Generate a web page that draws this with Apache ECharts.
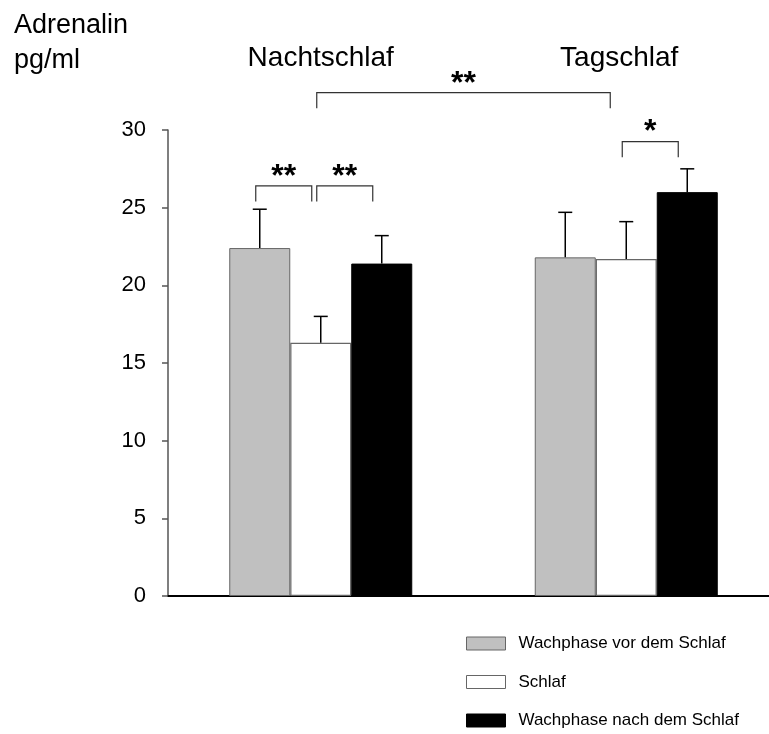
<!DOCTYPE html>
<html>
<head>
<meta charset="utf-8">
<script src="https://cdn.jsdelivr.net/npm/echarts@6/dist/echarts.min.js"></script>
<style>
  html, body { margin: 0; padding: 0; background: #fff; }
  #chart { width: 769px; height: 734px; }
</style>
</head>
<body>
<div id="chart"></div>
<script>
// Adrenalin (pg/ml) per sleep condition and phase: means and upper SEM
const conditions = ['Nachtschlaf', 'Tagschlaf'];
const phaseNames = ['Wachphase vor dem Schlaf', 'Schlaf', 'Wachphase nach dem Schlaf'];
const wachVor = [22.4, 21.8];
const schlaf = [16.3, 21.7];
const wachNach = [21.4, 26.0];
const errWachVor = [2.5, 2.9];
const errSchlaf = [1.7, 2.4];
const errWachNach = [1.8, 1.5];

// significance comparisons: [condition, phase] -> [condition, phase], bracket level, label
const sigFrom = [[0, 0], [0, 1], [0, 1], [1, 1]];
const sigTo = [[0, 1], [0, 2], [1, 1], [1, 2]];
const sigLevel = [26.4, 26.4, 32.4, 29.25];
const sigLabel = ['**', '**', '**', '*'];

const FONT = '"Liberation Sans", Arial, Helvetica, sans-serif';
const BAR_W = 61;

const phaseValues = [wachVor, schlaf, wachNach];
const phaseErrors = [errWachVor, errSchlaf, errWachNach];
const phaseStyles = [
  { color: '#c0c0c0', borderColor: '#666', borderWidth: 1 },
  { color: '#ffffff', borderColor: '#666', borderWidth: 1.2 },
  { color: '#000000', borderColor: '#000', borderWidth: 1 }
];

const errorData = [];
phaseValues.forEach((vals, p) => {
  vals.forEach((v, c) => errorData.push([c, p, v, phaseErrors[p][c]]));
});

const bracketData = sigFrom.map((f, i) => [f[0], f[1], sigTo[i][0], sigTo[i][1], sigLevel[i]]);

const chart = echarts.init(document.getElementById('chart'), null, { renderer: 'canvas' });

chart.setOption({
  animation: false,
  backgroundColor: '#fff',
  title: {
    text: 'Adrenalin\npg/ml',
    left: 9,
    top: 3,
    textStyle: { fontFamily: FONT, fontSize: 27, fontWeight: 'normal', color: '#000', lineHeight: 35 }
  },
  legend: {
    orient: 'vertical',
    left: 466,
    top: 635,
    height: 99,
    padding: 0,
    itemWidth: 39,
    itemHeight: 13,
    itemGap: 21.5,
    icon: 'rect',
    data: phaseNames,
    itemStyle: { borderWidth: 1 },
    textStyle: { fontFamily: FONT, fontSize: 17, color: '#000', lineHeight: 17, padding: [0, 0, 0, 8] }
  },
  grid: { left: 168, top: 130, width: 611, height: 466, containLabel: false, outerBoundsMode: 'none' },
  xAxis: [
    {
      type: 'category',
      data: conditions,
      position: 'bottom',
      axisLine: { show: true, lineStyle: { color: '#000', width: 2 } },
      axisTick: { show: false },
      axisLabel: { show: false },
      splitLine: { show: false }
    },
    {
      type: 'category',
      data: conditions,
      position: 'top',
      axisLine: { show: false },
      axisTick: { show: false },
      splitLine: { show: false },
      axisLabel: {
        show: true,
        margin: 58,
        fontFamily: FONT,
        fontSize: 28,
        color: '#000',
        formatter: (v, i) => (i === 1 ? '{r|' + v + '}' : v),
        rich: { r: { fontFamily: FONT, fontSize: 28, color: '#000', padding: [0, 14, 0, 0] } }
      }
    }
  ],
  yAxis: {
    type: 'value',
    min: 0,
    max: 30,
    interval: 5,
    axisLine: { show: true, lineStyle: { color: '#555', width: 1.5 } },
    axisTick: { show: true, length: 6, lineStyle: { color: '#555', width: 1.5 } },
    splitLine: { show: false },
    axisLabel: { margin: 22, fontFamily: FONT, fontSize: 22, color: '#000' }
  },
  series: [
    ...phaseNames.map((name, p) => ({
      name,
      type: 'bar',
      xAxisIndex: 0,
      data: phaseValues[p],
      barWidth: BAR_W,
      barGap: '0%',
      itemStyle: phaseStyles[p],
      z: 2
    })),
    {
      name: 'SEM',
      type: 'custom',
      xAxisIndex: 0,
      data: errorData,
      encode: { x: 0, y: 2 },
      z: 3,
      renderItem(params, api) {
        const cat = api.value(0), slot = api.value(1), v = api.value(2), e = api.value(3);
        const base = api.coord([cat, v]);
        const top = api.coord([cat, v + e]);
        const x = base[0] + (slot - 1) * BAR_W;
        const style = { stroke: '#000', lineWidth: 1.5 };
        return {
          type: 'group',
          children: [
            { type: 'line', shape: { x1: x, y1: base[1], x2: x, y2: top[1] }, style },
            { type: 'line', shape: { x1: x - 7, y1: top[1], x2: x + 7, y2: top[1] }, style }
          ]
        };
      }
    },
    {
      name: 'Signifikanz',
      type: 'custom',
      xAxisIndex: 0,
      data: bracketData,
      encode: { x: 0, y: 4 },
      clip: false,
      z: 3,
      renderItem(params, api) {
        const c1 = api.value(0), s1 = api.value(1), c2 = api.value(2), s2 = api.value(3), lvl = api.value(4);
        const p1 = api.coord([c1, lvl]);
        const p2 = api.coord([c2, lvl]);
        // brackets spanning both conditions end a little further inside
        const x1 = p1[0] + (s1 - 1) * BAR_W - 4;
        const x2 = p2[0] + (s2 - 1) * BAR_W - (c1 !== c2 ? 16 : 9);
        const y = p1[1];
        const leg = 15.5;
        return {
          type: 'group',
          children: [
            {
              type: 'polyline',
              shape: { points: [[x1, y + leg], [x1, y], [x2, y], [x2, y + leg]] },
              style: { stroke: '#333', lineWidth: 1.2, fill: null }
            },
            {
              type: 'text',
              style: {
                x: (x1 + x2) / 2,
                y: y - 9,
                text: sigLabel[params.dataIndex],
                font: 'bold 32px ' + FONT,
                fill: '#000',
                align: 'center',
                verticalAlign: 'middle'
              }
            }
          ]
        };
      }
    }
  ]
});
</script>
</body>
</html>
